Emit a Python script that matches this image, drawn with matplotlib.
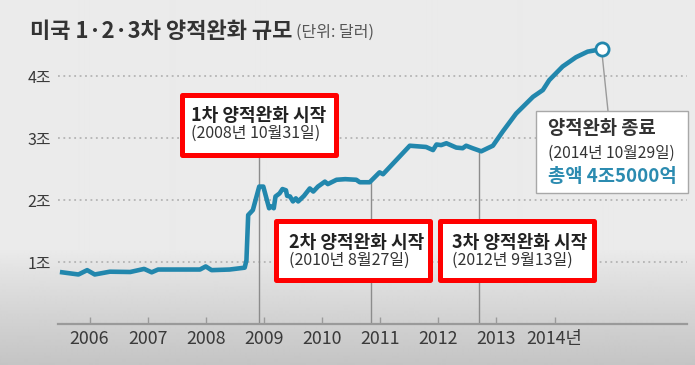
import matplotlib
matplotlib.use('Agg')
import matplotlib.pyplot as plt
import numpy as np
from matplotlib.patches import Rectangle

# ---------------- data ----------------
title = '미국 1·2·3차 양적완화 규모'
unit = '(단위: 달러)'

years = [2005.53, 2005.81, 2005.96, 2006.09, 2006.35, 2006.70, 2006.94, 2007.07,
         2007.18, 2007.55, 2007.90, 2008.00, 2008.10, 2008.41, 2008.67, 2008.70,
         2008.73, 2008.81, 2008.92, 2008.99, 2009.09, 2009.13, 2009.17, 2009.20,
         2009.27, 2009.32, 2009.38, 2009.40, 2009.45, 2009.50, 2009.55, 2009.59,
         2009.69, 2009.79, 2009.85, 2009.93, 2010.05, 2010.10, 2010.25, 2010.40,
         2010.59, 2010.65, 2010.82, 2010.99, 2011.05, 2011.28, 2011.51, 2011.79,
         2011.91, 2011.97, 2012.05, 2012.14, 2012.31, 2012.42, 2012.48, 2012.59,
         2012.74, 2012.85, 2012.94, 2013.11, 2013.34, 2013.63, 2013.80, 2013.91,
         2014.14, 2014.37, 2014.57, 2014.81]
values = [0.835, 0.80, 0.87, 0.80, 0.845, 0.84, 0.89, 0.835,
          0.88, 0.88, 0.88, 0.93, 0.87, 0.88, 0.91, 1.03,
          1.76, 1.84, 2.22, 2.22, 1.87, 1.90, 1.87, 2.06,
          2.11, 2.18, 2.16, 2.07, 2.06, 1.98, 2.03, 1.98,
          2.07, 2.19, 2.14, 2.22, 2.30, 2.26, 2.33, 2.34,
          2.33, 2.29, 2.29, 2.45, 2.42, 2.65, 2.88, 2.86,
          2.81, 2.90, 2.89, 2.92, 2.85, 2.84, 2.88, 2.84,
          2.79, 2.84, 2.88, 3.11, 3.40, 3.67, 3.78, 3.94,
          4.16, 4.31, 4.40, 4.44]

ytick_vals = [1, 2, 3, 4]
ytick_labels = ['1조', '2조', '3조', '4조']
xtick_vals = [2006, 2007, 2008, 2009, 2010, 2011, 2012, 2013, 2014]
xtick_labels = ['2006', '2007', '2008', '2009', '2010', '2011', '2012', '2013', '2014년']

qe_titles = ['1차 양적완화 시작', '2차 양적완화 시작', '3차 양적완화 시작']
qe_dates = ['(2008년 10월31일)', '(2010년 8월27일)', '(2012년 9월13일)']
qe_years = [2008.916, 2010.836, 2012.70]

end_title = '양적완화 종료'
end_date = '(2014년 10월29일)'
end_total = '총액 4조5000억'

# ---------------- style ----------------
KR = 'Noto Sans CJK KR'
plt.rcParams['font.family'] = [KR, 'DejaVu Sans']

LINE = '#2287ad'
TEAL = '#2b8bb0'
GRID = '#b4b4b4'
AXC = '#9a9a9a'

W, H = 695, 365
fig = plt.figure(figsize=(W / 100, H / 100), dpi=100)

def fx(x):
    return x / W

def fy(y):
    return 1 - y / H

# background gradient
bg = fig.add_axes([0, 0, 1, 1], zorder=-10)
rows = np.arange(H)
g = np.where(rows < 250, 0.92, 0.92 - ((rows - 250) / (H - 250)) ** 0.9 * 0.15)
bg.imshow(np.repeat(g[:, None], 2, axis=1), aspect='auto', cmap='gray', vmin=0, vmax=1,
          extent=[0, 1, 0, 1], interpolation='bilinear')
bg.axis('off')

# main axes: x pixel 58..687, y 0 at pixel 324, 61.9 px per unit
ppy = 58.125
ax = fig.add_axes([fx(58), fy(324), (687 - 58) / W, (324 - 40) / H])
ax.patch.set_alpha(0)
x0 = 2006 + (58 - 89.5) / ppy
x1 = 2006 + (687 - 89.5) / ppy
ax.set_xlim(x0, x1)
ax.set_ylim(0, 284 / 61.9)

for s in ['top', 'right', 'left']:
    ax.spines[s].set_visible(False)
ax.spines['bottom'].set_color(AXC)
ax.spines['bottom'].set_linewidth(1.6)

ax.set_xticks(xtick_vals)
ax.set_xticklabels(xtick_labels, fontsize=12.8, color='#3a3a3a')
ax.tick_params(axis='x', direction='in', length=5, width=1, color=AXC, pad=4)
ax.set_yticks(ytick_vals)
ax.set_yticklabels(ytick_labels, fontsize=11.5, color='#3a3a3a')
ax.tick_params(axis='y', length=0, pad=5)

ax.hlines(ytick_vals, x0, x1, colors=GRID, linewidth=1.3, linestyles=(0, (1, 2)), zorder=1)

# event vertical lines
vl_tops = [(324 - 157) / 61.9, 2.29, 2.79]
ax.vlines(qe_years, 0, vl_tops, colors='#8c8c8c', linewidth=1, zorder=2)

ax.plot(years, values, color=LINE, linewidth=3.3, solid_joinstyle='round', zorder=4)

# end connector and marker
cx = 2006 + (608 - 89.5) / ppy
cy = (324 - 111) / 61.9
ax.plot([years[-1], cx], [values[-1], cy], color='#9a9a9a', linewidth=1, zorder=3)
ax.plot([years[-1]], [values[-1]], 'o', markersize=9.5, markerfacecolor='white',
        markeredgecolor=LINE, markeredgewidth=2, zorder=6, clip_on=False)

# title
fig.text(fx(30), fy(31), title, fontsize=15.9, fontweight='bold', color='#333333', va='center')
fig.text(fx(296), fy(32), unit, fontsize=11.5, color='#555555', va='center')

# red boxes
boxes = [(179, 92, 338, 157), (273, 218, 432, 282), (437, 218, 596, 282)]
text_pos = [(191, 115.5, 133.5), (289, 242, 260.5), (452, 242, 260.5)]
lw_px = 5
for (l, t, r, b), (tx, ty1, ty2), t1, t2 in zip(boxes, text_pos, qe_titles, qe_dates):
    rect = Rectangle((fx(l + lw_px / 2), fy(b - lw_px / 2)), (r - l - lw_px) / W,
                     (b - t - lw_px) / H, transform=fig.transFigure, facecolor='white',
                     edgecolor='#ff0000', linewidth=lw_px * 0.72, joinstyle='round', zorder=5)
    fig.add_artist(rect)
    fig.text(fx(tx), fy(ty1), t1, fontsize=13, fontweight='bold', color='#222222',
             va='center', zorder=6)
    fig.text(fx(tx), fy(ty2), t2, fontsize=11.5, color='#333333', va='center', zorder=6)

# end box
rect = Rectangle((fx(536), fy(193)), (688 - 536) / W, (193 - 111) / H,
                 transform=fig.transFigure, facecolor='white', edgecolor='#a8a8a8',
                 linewidth=1, zorder=5)
fig.add_artist(rect)
fig.text(fx(548), fy(129), end_title, fontsize=13.5, fontweight='bold', color='#333333',
         va='center', zorder=6)
fig.text(fx(548), fy(153), end_date, fontsize=11.3, color='#333333', va='center', zorder=6)
fig.text(fx(548), fy(177), end_total, fontsize=13.5, fontweight='bold', color=TEAL,
         va='center', zorder=6)

fig.savefig('out.png', dpi=100)
